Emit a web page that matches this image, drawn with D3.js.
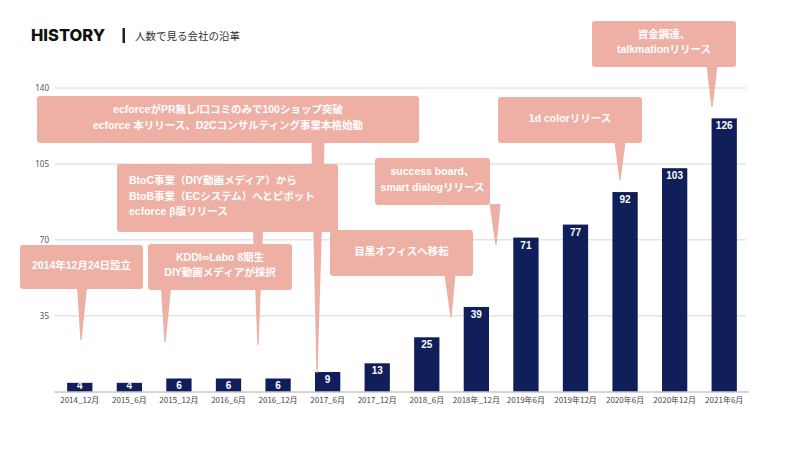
<!DOCTYPE html>
<html>
<head>
<meta charset="utf-8">
<script src="https://cdn.jsdelivr.net/npm/d3@7"></script>
<style>
  html, body { margin: 0; padding: 0; background: #ffffff; }
  svg { display: block; }
</style>
</head>
<body>
<svg id="chart" width="800" height="450"></svg>
<script>
// ---- data ----
const categories = ["2014_12月","2015_6月","2015_12月","2016_6月","2016_12月","2017_6月","2017_12月","2018_6月","2018年_12月","2019年6月","2019年12月","2020年6月","2020年12月","2021年6月"];
const headcount = [4, 4, 6, 6, 6, 9, 13, 25, 39, 71, 77, 92, 103, 126];
const yTicks = [35, 70, 105, 140];
const titleText = "HISTORY";
const subtitleText = "人数で見る会社の沿革";
const eventTexts = [
  ["2014年12月24日設立"],
  ["KDDI∞Labo 8期生", "DIY動画メディアが採択"],
  ["BtoC事業（DIY動画メディア）から", "BtoB事業（ECシステム）へとピボット", "ecforce β版リリース"],
  ["ecforceがPR無し/口コミのみで100ショップ突破", "ecforce 本リリース、D2Cコンサルティング事業本格始動"],
  ["目黒オフィスへ移転"],
  ["success board、", "smart dialogリリース"],
  ["1d colorリリース"],
  ["資金調達、", "talkmationリリース"]
];

// ---- layout (annotation placement, pixels) ----
const calloutLayout = [
  { x: 20,  y: 245, w: 123, h: 44, align: "middle", base: 82,  bw: 10, tipX: 81,  tipY: 340 },
  { x: 148, y: 244, w: 144, h: 46, align: "middle", base: 166, bw: 10, tipX: 165, tipY: 342 },
  { x: 117, y: 164, w: 221, h: 68, align: "start",  base: 258, bw: 10, tipX: 258, tipY: 345 },
  { x: 37,  y: 96,  w: 382, h: 47, align: "middle", base: 318, bw: 13, tipX: 317, tipY: 373 },
  { x: 330, y: 230, w: 143, h: 46, align: "middle", base: 450, bw: 11, tipX: 451, tipY: 317 },
  { x: 375, y: 158, w: 115, h: 47, align: "middle", base: 495, bw: 11, tipX: 496, tipY: 245 },
  { x: 498, y: 97,  w: 144, h: 46, align: "middle", base: 620, bw: 11, tipX: 620, tipY: 180 },
  { x: 592, y: 21,  w: 144, h: 46, align: "middle", base: 712, bw: 11, tipX: 712, tipY: 107 }
];

const W = 800, H = 450;
const margin = { left: 55, right: 51, top: 88, bottom: 58.5 };
const svg = d3.select("#chart");

const x = d3.scaleBand()
  .domain(categories)
  .range([margin.left, W - margin.right])
  .paddingInner(0.49)
  .paddingOuter(0.245);

const y = d3.scaleLinear()
  .domain([0, 140])
  .range([H - margin.bottom, margin.top]);

const CJK = "'Noto Sans CJK JP', 'Noto Sans', sans-serif";
const MIX = "'Liberation Sans', 'Noto Sans CJK JP', sans-serif";

// title
svg.append("text")
  .attr("x", 31).attr("y", 41)
  .attr("font-family", "Inter, 'Noto Sans', sans-serif")
  .attr("font-weight", 800)
  .attr("font-size", 16.5)
  .attr("fill", "#111")
  .text(titleText);
svg.append("rect")
  .attr("x", 122.5).attr("y", 28).attr("width", 2.5).attr("height", 15)
  .attr("fill", "#222");
svg.append("text")
  .attr("x", 135).attr("y", 40)
  .attr("font-family", CJK)
  .attr("font-size", 10.5)
  .attr("fill", "#333")
  .text(subtitleText);

// gridlines
const gridG = svg.append("g");
gridG.selectAll("line").data(yTicks).join("line")
  .attr("x1", margin.left).attr("x2", W - margin.right - 3)
  .attr("y1", d => y(d)).attr("y2", d => y(d))
  .attr("stroke", "#e4e4e4").attr("stroke-width", 1.5);

// y-axis labels
const yAxis = d3.axisLeft(y).tickValues(yTicks).tickSize(0).tickPadding(6);
const yG = svg.append("g").attr("transform", `translate(${margin.left},0)`).call(yAxis);
yG.select(".domain").remove();
yG.selectAll("text")
  .attr("font-family", "'Noto Sans', sans-serif")
  .attr("font-size", 8)
  .attr("fill", "#555");

// bars
svg.append("g").selectAll("rect").data(headcount).join("rect")
  .attr("x", (d, i) => x(categories[i]))
  .attr("y", d => y(d))
  .attr("width", x.bandwidth())
  .attr("height", d => y(0) - y(d))
  .attr("fill", "#101e5a");

// bar labels (clipped to bars)
const defs = svg.append("defs");
const clip = defs.append("clipPath").attr("id", "barclip");
clip.selectAll("rect").data(headcount).join("rect")
  .attr("x", (d, i) => x(categories[i]))
  .attr("y", d => y(d))
  .attr("width", x.bandwidth())
  .attr("height", d => y(0) - y(d));
svg.append("g").attr("clip-path", "url(#barclip)")
  .selectAll("text").data(headcount).join("text")
  .attr("x", (d, i) => x(categories[i]) + x.bandwidth() / 2)
  .attr("y", d => Math.min(y(d) + 11, y(0) - 2.5))
  .attr("text-anchor", "middle")
  .attr("font-family", MIX)
  .attr("font-weight", 700)
  .attr("font-size", 10)
  .attr("fill", "#ffffff")
  .text(d => d);

// x baseline + labels
svg.append("line")
  .attr("x1", margin.left - 1).attr("x2", W - margin.right)
  .attr("y1", y(0) + 0.5).attr("y2", y(0) + 0.5)
  .attr("stroke", "#aaaaaa").attr("stroke-width", 1);
const xAxis = d3.axisBottom(x).tickSize(0).tickPadding(6);
const xG = svg.append("g").attr("transform", `translate(0,${y(0)})`).call(xAxis);
xG.select(".domain").remove();
xG.selectAll("text")
  .attr("font-family", CJK)
  .attr("font-size", 8)
  .attr("fill", "#444");

// callouts
const calloutColor = "#eeb0a5";
const cg = svg.append("g");
const callouts = eventTexts.map((lines, i) => Object.assign({ lines }, calloutLayout[i]));
// pointers first
cg.selectAll("path.ptr").data(callouts).join("path")
  .attr("class", "ptr")
  .attr("d", c => {
    const by = c.y + c.h - 1;
    return `M${c.base - c.bw / 2},${by} L${c.base + c.bw / 2},${by} L${c.tipX + 0.6},${c.tipY} L${c.tipX - 0.6},${c.tipY} Z`;
  })
  .attr("fill", calloutColor);
cg.selectAll("rect.box").data(callouts).join("rect")
  .attr("class", "box")
  .attr("x", c => c.x).attr("y", c => c.y)
  .attr("width", c => c.w).attr("height", c => c.h)
  .attr("rx", 3)
  .attr("fill", calloutColor);
const lh = 15.5;
callouts.forEach(c => {
  const n = c.lines.length;
  const cy = c.y + c.h / 2 - 2.5;
  const tx = c.align === "start" ? c.x + 12 : c.x + c.w / 2;
  const t = cg.append("text")
    .attr("font-family", MIX)
    .attr("font-weight", 700)
    .attr("font-size", 10.5)
    .attr("fill", "#ffffff")
    .attr("text-anchor", c.align);
  c.lines.forEach((ln, k) => {
    t.append("tspan")
      .attr("x", tx)
      .attr("y", cy + (k - (n - 1) / 2) * lh + 4)
      .text(ln);
  });
});
</script>
</body>
</html>
